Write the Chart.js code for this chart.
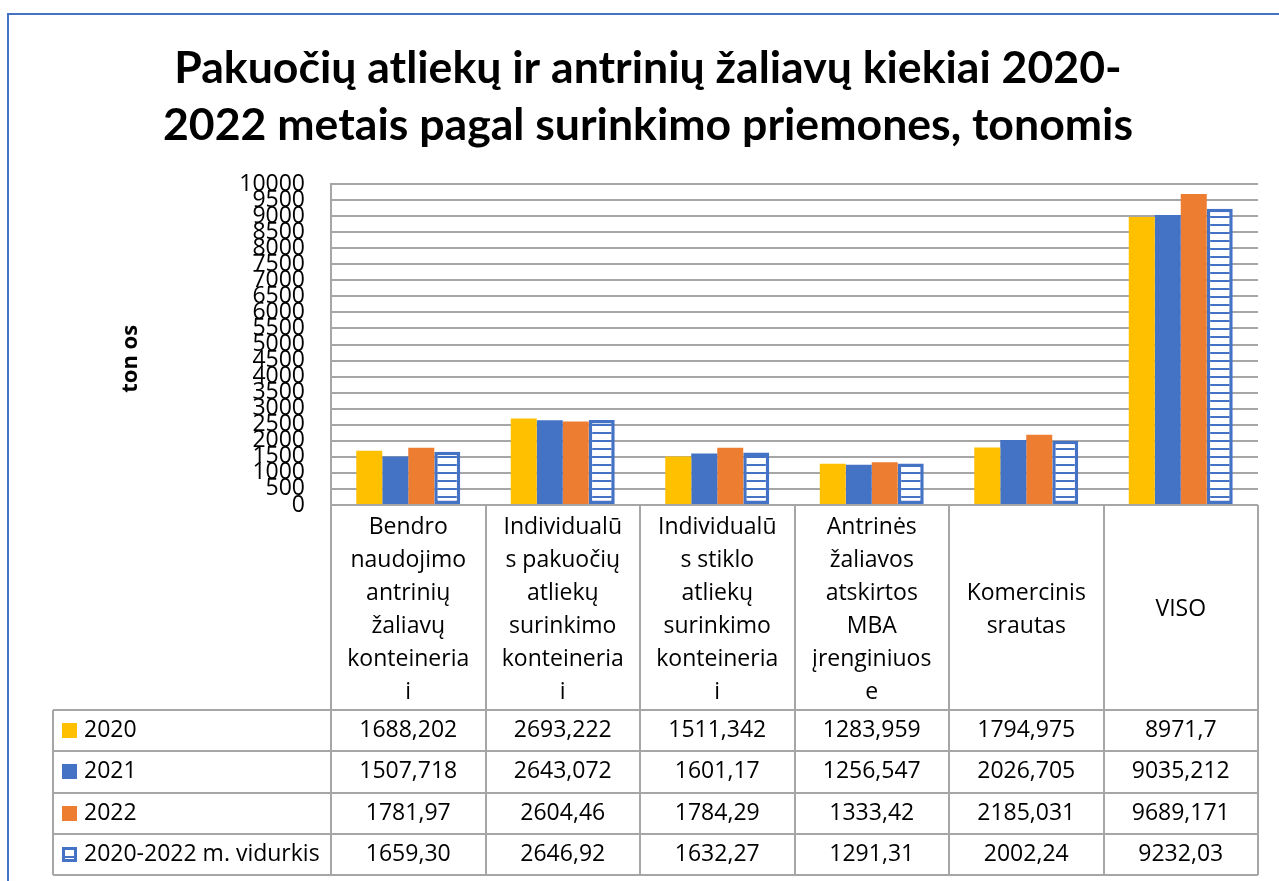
<!DOCTYPE html>
<html>
<head>
<meta charset="utf-8">
<script src="https://cdn.jsdelivr.net/npm/chart.js@4/dist/chart.umd.min.js"></script>
<style>
  html, body { margin: 0; padding: 0; background: #fff; overflow: hidden; }
  #wrap { position: relative; width: 1279px; height: 881px; }
  #frame { position: absolute; left: 7px; top: 13px; width: 2000px; height: 2000px;
           border: 2px solid #4472C4; pointer-events: none; }
</style>
</head>
<body>
<div id="wrap">
  <canvas id="c" width="1279" height="881"></canvas>
  <div id="frame"></div>
</div>
<script>
// ---- data ----
const categories = [
  ["Bendro", "naudojimo", "antrinių", "žaliavų", "konteineria", "i"],
  ["Individualū", "s pakuočių", "atliekų", "surinkimo", "konteineria", "i"],
  ["Individualū", "s stiklo", "atliekų", "surinkimo", "konteineria", "i"],
  ["Antrinės", "žaliavos", "atskirtos", "MBA", "įrenginiuos", "e"],
  ["Komercinis", "srautas"],
  ["VISO"]
];
const seriesNames = ["2020", "2021", "2022", "2020-2022 m. vidurkis"];
const values2020 = [1688.202, 2693.222, 1511.342, 1283.959, 1794.975, 8971.7];
const values2021 = [1507.718, 2643.072, 1601.17, 1256.547, 2026.705, 9035.212];
const values2022 = [1781.97, 2604.46, 1784.29, 1333.42, 2185.031, 9689.171];
const valuesAvg  = [1659.30, 2646.92, 1632.27, 1291.31, 2002.24, 9232.03];
const yTicks = [0, 500, 1000, 1500, 2000, 2500, 3000, 3500, 4000, 4500, 5000,
                5500, 6000, 6500, 7000, 7500, 8000, 8500, 9000, 9500, 10000];
const titleLines = ["Pakuočių atliekų ir antrinių žaliavų kiekiai 2020-",
                    "2022 metais pagal surinkimo priemones, tonomis"];
const yTitle = "ton os";

// ---- styles ----
const C2020 = "#FFC000", C2021 = "#4472C4", C2022 = "#ED7D31", CAVG = "#4472C4";
const GRID = "#a6a6a6";
const FONT = "'Open Sans', 'DejaVu Sans', sans-serif";

function fmt(v) { return String(v).replace(".", ","); }
function fmt2(v) { return v.toFixed(2).replace(".", ","); }
const tableRows = [
  values2020.map(fmt),
  values2021.map(fmt),
  values2022.map(fmt),
  valuesAvg.map(fmt2)
];

// stripe pattern for the average series
const pc = document.createElement("canvas");
pc.width = 8; pc.height = 8;
const pctx = pc.getContext("2d");
pctx.fillStyle = "#ffffff"; pctx.fillRect(0, 0, 8, 8);
pctx.fillStyle = CAVG; pctx.fillRect(0, 0, 8, 2);
const stripePattern = pctx.createPattern(pc, "repeat");

const colors = [C2020, C2021, C2022, CAVG];

const tablePlugin = {
  id: "dataTable",
  afterDraw(chart) {
    const ctx = chart.ctx;
    const xs = chart.scales.x;
    const area = chart.chartArea;
    const n = categories.length;
    const colW = (area.right - area.left) / n;
    const top = area.bottom;
    const catRowH = 205;
    const rowH = 41.25;
    const catBottom = top + catRowH;
    const tableBottom = catBottom + rowH * seriesNames.length;
    const legendLeft = 53;

    ctx.save();
    ctx.strokeStyle = GRID;
    ctx.lineWidth = 2;
    ctx.beginPath();
    for (let i = 0; i <= n; i++) {
      const x = Math.round(area.left + i * colW);
      ctx.moveTo(x, top); ctx.lineTo(x, tableBottom);
    }
    ctx.moveTo(legendLeft, catBottom); ctx.lineTo(legendLeft, tableBottom);
    for (let r = 0; r <= seriesNames.length; r++) {
      const y = Math.round(catBottom + r * rowH);
      ctx.moveTo(legendLeft, y); ctx.lineTo(area.right, y);
    }
    ctx.stroke();

    ctx.fillStyle = "#000";
    ctx.font = "23px " + FONT;
    ctx.textAlign = "center";
    ctx.textBaseline = "middle";
    const lineH = 33;
    categories.forEach((lines, i) => {
      const cx = xs.getPixelForValue(i);
      const cy = top + catRowH / 2 + 2;
      const y0 = cy - (lines.length - 1) * lineH / 2;
      lines.forEach((t, k) => ctx.fillText(t, cx, y0 + k * lineH));
    });

    seriesNames.forEach((name, r) => {
      const cy = catBottom + r * rowH + rowH / 2;
      const mx = 62, my = Math.round(cy - 7.5), ms = 15;
      if (r < 3) {
        ctx.fillStyle = colors[r];
        ctx.fillRect(mx, my, ms, ms);
      } else {
        ctx.fillStyle = CAVG;
        ctx.fillRect(mx, my, ms, ms);
        ctx.fillStyle = "#fff";
        ctx.fillRect(mx + 3, my + 3, ms - 6, ms - 6);
        ctx.fillStyle = CAVG;
        ctx.fillRect(mx + 3, my + 9, ms - 6, 2);
      }
      ctx.fillStyle = "#000";
      ctx.textAlign = "left";
      ctx.fillText(name, 84, cy);
      ctx.textAlign = "center";
      tableRows[r].forEach((t, i) => ctx.fillText(t, xs.getPixelForValue(i), cy));
    });
    ctx.restore();
  }
};

new Chart(document.getElementById("c"), {
  type: "bar",
  data: {
    labels: categories.map(l => l.join(" ")),
    datasets: [
      { label: seriesNames[0], data: values2020, backgroundColor: C2020, borderWidth: 0 },
      { label: seriesNames[1], data: values2021, backgroundColor: C2021, borderWidth: 0 },
      { label: seriesNames[2], data: values2022, backgroundColor: C2022, borderWidth: 0 },
      { label: seriesNames[3], data: valuesAvg, backgroundColor: stripePattern,
        borderColor: CAVG, borderWidth: 3.5, borderSkipped: false }
    ]
  },
  options: {
    responsive: false,
    animation: false,
    events: [],
    layout: { padding: { left: 38, right: 21, top: 0, bottom: 376 } },
    datasets: { bar: { categoryPercentage: 0.673, barPercentage: 1.0 } },
    plugins: {
      legend: { display: false },
      tooltip: { enabled: false },
      title: {
        display: true,
        text: titleLines,
        color: "#000",
        font: { family: "Lato, 'Open Sans', sans-serif", size: 44.6, weight: "bold", lineHeight: 57 / 44.6 },
        padding: { top: 40, bottom: 30 }
      }
    },
    scales: {
      x: { display: false, offset: true, grid: { display: false } },
      y: {
        min: 0, max: 10000,
        afterFit: (s) => { s.width = 293; },
        afterBuildTicks: (s) => { s.ticks = yTicks.map(v => ({ value: v })); },
        ticks: {
          autoSkip: false, padding: 26, color: "#000",
          font: { family: FONT, size: 23 },
          callback: (v) => String(v)
        },
        grid: { color: GRID, lineWidth: 2, drawTicks: false },
        border: { color: GRID, width: 2 },
        title: {
          display: true, text: yTitle + "\u00a0\u00a0\u00a0\u00a0\u00a0", color: "#000",
          font: { family: FONT, size: 22, weight: "bold" },
          padding: { top: 80, bottom: 2 }
        }
      }
    }
  },
  plugins: [tablePlugin]
});
</script>
</body>
</html>
